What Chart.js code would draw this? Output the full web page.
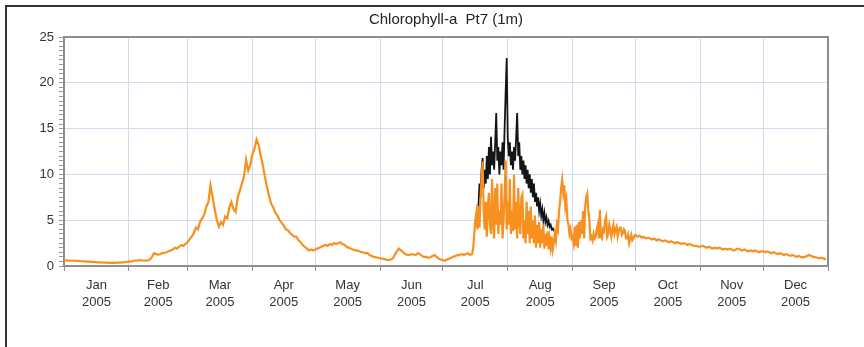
<!DOCTYPE html>
<html>
<head>
<meta charset="utf-8">
<script src="https://cdn.jsdelivr.net/npm/chart.js@4.4.1/dist/chart.umd.min.js"></script>
<style>
  html, body { margin: 0; padding: 0; background: #fff; overflow: hidden; }
  #wrap { position: relative; width: 864px; height: 347px; }
  #frame { position: absolute; left: 5px; top: 5px; width: 900px; height: 400px;
           border-left: 2px solid #333; border-top: 2px solid #333; }
  #box { position: absolute; left: 0; top: 0; width: 864px; height: 347px; }
</style>
</head>
<body>
<div id="wrap">
  <div id="frame"></div>
  <div id="box"><canvas id="c"></canvas></div>
</div>
<script>
// chart text
var titleText = 'Chlorophyll-a  Pt7 (1m)';
var monthNames = ['Jan', 'Feb', 'Mar', 'Apr', 'May', 'Jun', 'Jul', 'Aug', 'Sep', 'Oct', 'Nov', 'Dec'];
var yearLabel = '2005';
// day of year where each month starts (last one = 1 Jan 2006)
var monthStarts = [0, 31, 59, 90, 120, 151, 181, 212, 243, 273, 304, 334, 365];

// orange series. one value per day,
// Jul-Sep two per day since the trace is so noisy there
var orangeJan = [0.6, 0.62, 0.6, 0.58, 0.6, 0.57, 0.55, 0.56, 0.53, 0.52, 0.5, 0.48, 0.47, 0.45, 0.44, 0.42,
  0.4, 0.4, 0.38, 0.37, 0.36, 0.36, 0.35, 0.36, 0.35, 0.36, 0.38, 0.37, 0.4, 0.42, 0.45];
var orangeFeb = [0.5, 0.48, 0.55, 0.6, 0.58, 0.65, 0.62, 0.6, 0.58, 0.62, 0.7, 1.0, 1.4, 1.3, 1.25, 1.3,
  1.4, 1.45, 1.5, 1.6, 1.7, 1.8, 2.0, 1.9, 2.1, 2.3, 2.2, 2.4];
var orangeMar = [2.6, 2.9, 3.2, 3.6, 4.2, 4.0, 4.8, 5.2, 5.6, 6.5, 7.0, 8.8, 7.5, 6.2, 5.0, 4.3,
  4.8, 4.5, 5.4, 5.2, 6.4, 7.0, 6.2, 5.9, 7.5, 8.2, 9.0, 9.8, 11.6, 10.4, 11.0];
var orangeApr = [12.2, 12.8, 13.8, 13.2, 12.0, 11.0, 9.7, 8.6, 7.6, 6.8, 6.4, 5.8, 5.5, 5.0, 4.7,
  4.4, 4.0, 3.9, 3.6, 3.4, 3.2, 3.2, 2.8, 2.6, 2.3, 2.1, 1.9, 1.7, 1.8, 1.7];
var orangeMay = [1.8, 1.9, 2.0, 2.1, 2.2, 2.3, 2.2, 2.4, 2.3, 2.5, 2.4, 2.5, 2.6, 2.4, 2.3, 2.1,
  2.0, 1.9, 1.8, 1.7, 1.7, 1.6, 1.5, 1.5, 1.4, 1.4, 1.2, 1.1, 1.0, 0.95, 0.9];
var orangeJun = [0.85, 0.8, 0.75, 0.7, 0.65, 0.7, 0.8, 1.2, 1.6, 1.9, 1.7, 1.5, 1.3, 1.2, 1.2,
  1.3, 1.25, 1.2, 1.4, 1.3, 1.1, 1.0, 1.0, 0.9, 0.95, 1.1, 1.2, 1.0, 0.8, 0.7];
var orangeJul = [
  0.65, 0.62, 0.6, 0.65, 0.7, 0.75, 0.8, 0.85, 0.9, 0.95, 1.0, 1.05, 1.1, 1.15, 1.2, 1.15,
  1.2, 1.25, 1.3, 1.25, 1.2, 1.25, 1.3, 1.35, 1.4, 1.3, 1.2, 1.25, 1.3, 2.0,
  3.5, 5.0, 5.8, 4.0, 6.5, 4.2, 7.5, 9.5, 11.4, 6.0, 4.0, 7.0, 3.2, 6.5, 8.0, 4.5,
  3.5, 9.5, 5.0, 3.0, 8.5, 4.5, 9.0, 3.5, 6.0, 4.5, 9.0, 3.0, 5.0, 8.0, 11.5, 4.0];
var orangeAug = [
  7.0, 4.5, 9.5, 3.5, 6.0, 3.8, 10.0, 4.0, 7.0, 3.0, 8.5, 5.0, 3.5, 7.5, 7.8, 3.0,
  5.0, 2.5, 7.0, 3.5, 6.0, 2.5, 6.5, 3.0, 5.0, 2.5, 5.5, 2.0, 4.5, 2.5, 4.8, 2.0,
  4.0, 2.5, 4.5, 1.9, 3.5, 2.2, 3.8, 1.8, 3.0, 2.0, 3.2, 1.8, 2.5, 3.5, 2.8, 4.5,
  4.0, 6.0, 7.0, 8.5, 9.4, 8.0, 8.8, 6.5, 7.2, 5.0, 4.5, 3.5, 4.0, 3.0];
var orangeSep = [
  3.2, 2.5, 4.3, 2.2, 4.5, 2.0, 4.8, 3.0, 5.0, 3.5, 6.0, 3.0, 6.5, 7.5, 7.9, 6.0,
  5.0, 3.0, 3.2, 2.8, 3.5, 3.0, 3.2, 4.0, 4.5, 3.0, 6.1, 3.2, 3.0, 4.0, 3.8, 5.0,
  5.4, 3.2, 3.5, 4.5, 4.0, 3.2, 3.9, 4.5, 3.5, 4.0, 4.3, 3.2, 3.8, 4.2, 4.2, 3.4,
  3.6, 4.0, 3.8, 3.0, 3.0, 3.4, 2.5, 3.0, 3.4, 2.8, 3.0, 3.3];
var orangeOct = [3.4, 3.2, 3.3, 3.1, 3.2, 3.0, 3.1, 3.0, 2.9, 3.0, 2.8, 2.9, 2.8, 2.7, 2.8, 2.7,
  2.6, 2.7, 2.6, 2.5, 2.6, 2.5, 2.4, 2.5, 2.4, 2.3, 2.4, 2.3, 2.2, 2.2, 2.1];
var orangeNov = [2.1, 2.2, 2.1, 2.0, 2.1, 2.0, 1.9, 2.0, 1.9, 2.0, 1.9, 1.8, 1.9, 1.8, 1.9,
  1.8, 1.7, 1.8, 1.9, 1.8, 1.7, 1.8, 1.7, 1.6, 1.7, 1.6, 1.7, 1.6, 1.5, 1.6];
var orangeDec = [1.6, 1.5, 1.6, 1.5, 1.4, 1.5, 1.4, 1.3, 1.4, 1.3, 1.2, 1.3, 1.2, 1.1, 1.2, 1.1,
  1.0, 1.1, 1.0, 0.95, 1.0, 1.1, 1.2, 1.1, 1.0, 0.95, 0.9, 0.85, 0.9, 0.8, 0.75];

// black series only runs mid Jul - late Aug, two values per day
var blackStartDay = 198;
var blackStep = 0.5;
var blackValues = [
  6.5, 9.0, 7.5, 10.5, 11.8, 8.5, 10.5, 9.0, 12.0, 9.5, 13.0, 10.0, 14.1, 11.0,
  12.5, 10.5, 13.5, 16.7, 11.5, 13.0, 10.0, 12.5, 11.0, 13.5, 10.5, 15.0, 19.0, 22.7,
  14.0, 12.0, 13.5, 11.0, 12.5, 10.5, 13.0, 11.5, 14.0, 16.7, 12.0, 13.5, 10.5, 12.0,
  10.0, 11.5, 9.5, 11.0, 9.0, 10.5, 8.5, 10.0, 8.0, 9.5, 7.5, 9.0, 7.0, 8.0,
  6.5, 7.5, 6.0, 6.8, 5.5, 6.2, 5.0, 5.8, 4.8, 5.3, 4.5, 4.9, 4.3, 4.5, 4.0, 4.1, 3.8];

var orangeMonths = [orangeJan, orangeFeb, orangeMar, orangeApr, orangeMay, orangeJun,
  orangeJul, orangeAug, orangeSep, orangeOct, orangeNov, orangeDec];
var orangePts = [];
orangeMonths.forEach(function (vals, m) {
  var step = (monthStarts[m + 1] - monthStarts[m]) / vals.length;
  vals.forEach(function (v, i) { orangePts.push({ x: monthStarts[m] + i * step, y: v }); });
});
var blackPts = blackValues.map(function (v, i) { return { x: blackStartDay + i * blackStep, y: v }; });

// x ticks: month starts carry the grid, mid-months carry the labels
var midLabel = {};
var xTicks = [];
monthStarts.forEach(function (d, i) {
  xTicks.push({ value: d });
  if (i < 12) {
    var mid = (d + monthStarts[i + 1]) / 2;
    midLabel[mid] = [monthNames[i], yearLabel];
    xTicks.push({ value: mid });
  }
});

var gridColor = '#d3d9f0';
var frameColor = '#8e8e8e';
var tickFont = { family: 'Liberation Sans, Arial, sans-serif', size: 13, lineHeight: 1.3 };

var titlePlugin = {
  id: 'plotTitle',
  afterDraw: function (chart) {
    var a = chart.chartArea, ctx = chart.ctx;
    ctx.save();
    ctx.font = '15px "Liberation Sans", Arial, sans-serif';
    ctx.fillStyle = '#222';
    ctx.textAlign = 'center';
    ctx.textBaseline = 'middle';
    ctx.fillText(titleText, (a.left + a.right) / 2, 20);
    ctx.restore();
  }
};

new Chart(document.getElementById('c'), {
  type: 'line',
  data: {
    datasets: [
      { data: orangePts, borderColor: '#f7901e', borderWidth: 2.2, pointRadius: 0, tension: 0, order: 0 },
      { data: blackPts, borderColor: '#151515', borderWidth: 1.8, pointRadius: 0, tension: 0, order: 1 }
    ]
  },
  options: {
    responsive: true,
    maintainAspectRatio: false,
    animation: false,
    layout: { padding: { left: 0, right: 36, top: 37, bottom: 31 } },
    plugins: { legend: { display: false }, tooltip: { enabled: false }, title: { display: false } },
    scales: {
      x: {
        type: 'linear', min: 0, max: 365, position: 'bottom',
        afterBuildTicks: function (s) { s.ticks = xTicks.slice(); },
        afterFit: function (s) { s.height = 50; },
        grid: {
          color: function (c) { return midLabel[c.tick.value] ? 'rgba(0,0,0,0)' : gridColor; },
          tickColor: function (c) { return midLabel[c.tick.value] ? 'rgba(0,0,0,0)' : frameColor; },
          tickLength: 5
        },
        border: { color: frameColor, width: 2 },
        ticks: {
          autoSkip: false, maxRotation: 0, minRotation: 0, padding: 6,
          color: '#333', font: tickFont,
          callback: function (v) { return midLabel[v] || ''; }
        }
      },
      y: {
        type: 'linear', min: 0, max: 25, position: 'left',
        afterFit: function (s) { s.width = 64; },
        grid: {
          color: function (c) { return c.tick.value % 5 === 0 ? gridColor : 'rgba(0,0,0,0)'; },
          tickColor: '#9a9a9a',
          tickLength: 5
        },
        border: { color: frameColor, width: 2 },
        ticks: {
          stepSize: 0.5, autoSkip: false, padding: 5,
          color: '#333', font: tickFont,
          callback: function (v) { return v % 5 === 0 ? String(v) : ''; }
        }
      },
      xTop: {
        type: 'linear', min: 0, max: 365, position: 'top',
        grid: { drawOnChartArea: false, drawTicks: false },
        border: { color: frameColor, width: 2 },
        ticks: { display: false }
      },
      yRight: {
        type: 'linear', min: 0, max: 25, position: 'right',
        afterFit: function (s) { s.width = 0; },
        grid: { drawOnChartArea: false, drawTicks: false },
        border: { color: frameColor, width: 2 },
        ticks: { display: false }
      }
    }
  },
  plugins: [titlePlugin]
});
</script>
</body>
</html>
